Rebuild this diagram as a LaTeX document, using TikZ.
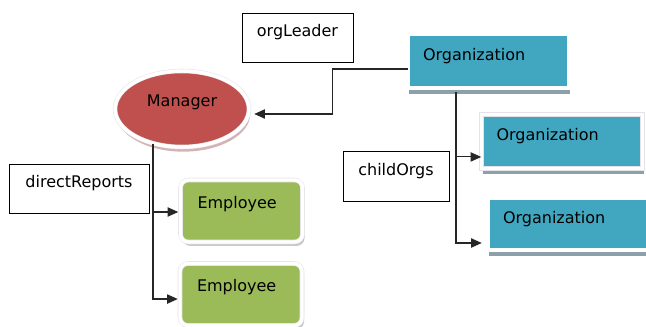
\documentclass[tikz,border=0pt]{standalone}
\usepackage{fontspec}
\setmainfont{DejaVu Sans}
\usetikzlibrary{arrows.meta,shadows,shapes.geometric}
\definecolor{orgTeal}{RGB}{65,167,193}
\definecolor{mgrRed}{RGB}{192,80,77}
\definecolor{empGreen}{RGB}{155,187,89}
\definecolor{orgShade}{RGB}{140,160,170}
\definecolor{empShade}{RGB}{200,200,200}
\definecolor{mgrShade}{RGB}{215,178,178}
\definecolor{rimGray}{RGB}{228,228,232}
\begin{document}
\begin{tikzpicture}[x=0.75pt, y=-0.75pt,
                    font=\fontsize{12}{14}\selectfont,
                    rim/.style={draw=rimGray, double=white, double distance=2.6pt, line width=0.4pt},
                    orgbox/.style={rectangle, rim, fill=orgTeal,
                        minimum width=120.75pt, minimum height=40.5pt, inner xsep=11.25pt, inner ysep=0pt,
                        text width=98.25pt, align=left, text height=9pt, text depth=10pt,
                        drop shadow={shadow xshift=0.75pt, shadow yshift=-4.5pt, fill=orgShade, opacity=1}},
                    empbox/.style={rectangle, rounded corners=6pt, rim, fill=empGreen,
                        minimum width=91.5pt, minimum height=46.5pt, inner xsep=12.75pt, inner ysep=0pt,
                        text width=66pt, align=left, text height=9pt, text depth=13pt,
                        drop shadow={shadow xshift=1.5pt, shadow yshift=-3pt, fill=empShade, opacity=1}},
                    mgrbox/.style={ellipse, rim, fill=mgrRed,
                        minimum width=100.5pt, minimum height=57pt, inner sep=0pt,
                        text height=9pt, text depth=12pt,
                        drop shadow={shadow xshift=1pt, shadow yshift=-3.5pt, fill=mgrShade, opacity=1}},
                    tagbox/.style={rectangle, draw=black, line width=0.6pt, fill=white, inner sep=0pt,
                        minimum height=36.75pt, align=center, text height=9pt, text depth=10pt},
                    link/.style={draw=black!85, line width=0.8pt, -{Triangle[length=8pt,width=7pt]}}]
                    \useasboundingbox (0, 0) rectangle (646, 327);

                    \node[tagbox, minimum width=83.25pt] (leaderTag) at (297.5, 37.5) {orgLeader};
                    \node[tagbox, minimum width=105pt] (reportsTag) at (79, 188.5) {directReports};
                    \node[tagbox, minimum width=79.5pt, minimum height=37.5pt] (childTag) at (396, 176) {childOrgs};

                    \node[orgbox] (orgTop) at (488.5, 61) {Organization};
                    \node[orgbox] (orgTwo) at (562, 141.5) {Organization};
                    \node[orgbox, minimum height=39pt] (orgThree) at (568.5, 224) {Organization};

                    \node[mgrbox] (mgr) at (182, 109) {Manager};

                    \node[empbox] (empOne) at (241.5, 211) {Employee};
                    \node[empbox] (empTwo) at (241, 294.5) {Employee};

                    \draw[link] ([yshift=-6pt]orgTop.west) -- ++(-75, 0) |- ([xshift=3.75pt, yshift=-3.75pt]mgr.east);

                    \draw[link] (mgr.230) |- ([xshift=-1.5pt, yshift=-0.75pt]empOne.west);
                    \draw[link] (mgr.230) |- ([xshift=-1.5pt, yshift=-3.4pt]empTwo.west);

                    \draw[link] ([xshift=-24.4pt, yshift=-3pt]orgTop.south) |- ([yshift=-11.6pt]orgTwo.west);
                    \draw[link] ([xshift=-24.4pt, yshift=-3pt]orgTop.south) |- ([xshift=-4.5pt, yshift=-14.25pt]orgThree.west);
\end{tikzpicture}
\end{document}
